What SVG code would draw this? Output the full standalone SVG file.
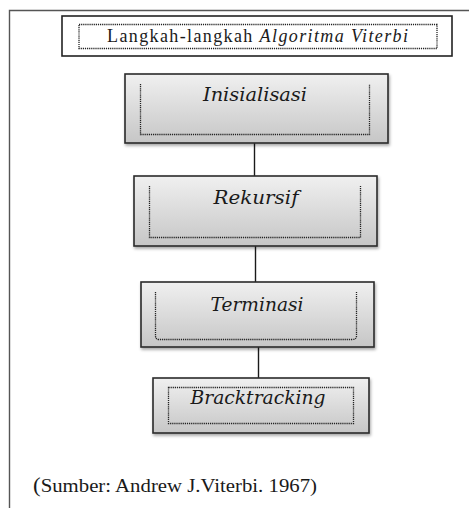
<svg xmlns="http://www.w3.org/2000/svg" width="469" height="508" viewBox="0 0 469 508">
<defs>
<linearGradient id="g" x1="0" y1="0" x2="0" y2="1">
<stop offset="0" stop-color="#f0f0f0"/>
<stop offset="1" stop-color="#c6c6c6"/>
</linearGradient>
<filter id="sh" x="-10%" y="-10%" width="130%" height="140%">
<feDropShadow dx="1" dy="2" stdDeviation="1.5" flood-color="#000" flood-opacity="0.35"/>
</filter>
</defs>
<style>
.box{fill:url(#g);stroke:#2a2a2a;stroke-width:1.6;filter:url(#sh)}
.dot{fill:none;stroke:#222;stroke-width:1.3;stroke-dasharray:1.2 0.9}
.serif{font-family:"Liberation Serif","Times New Roman",serif}
.lbl{font-family:"DejaVu Serif","Liberation Serif",serif;font-style:italic;font-size:18px;fill:#1a1a1a;text-anchor:middle}
.con{stroke:#1a1a1a;stroke-width:1.4;fill:none}
</style>
<rect width="469" height="508" fill="#fff"/>
<g id="frame">
<path d="M9.5 508 V10.5 H469" fill="none" stroke="#555" stroke-width="1.4"/>
</g>
<g id="title">
<rect x="62" y="16" width="390" height="40" fill="#fff" stroke="#222" stroke-width="1.6"/>
<rect x="79" y="24.5" width="358" height="24" class="dot"/>
<text x="107" y="42" class="serif" font-size="18" fill="#1a1a1a" textLength="301" lengthAdjust="spacing">Langkah-langkah <tspan font-style="italic">Algoritma Viterbi</tspan></text>
</g>
<g id="connectors">
<line x1="254.5" y1="143" x2="254.5" y2="176" class="con"/>
<line x1="255.5" y1="246" x2="255.5" y2="282" class="con"/>
<line x1="258.5" y1="347" x2="258.5" y2="378" class="con"/>
</g>
<g id="n1">
<rect x="125" y="74" width="263" height="69" class="box"/>
<path d="M140.5 84 V134.5 H369.5 V84" class="dot"/>
<text x="255" y="101" class="lbl" textLength="104" lengthAdjust="spacingAndGlyphs">Inisialisasi</text>
</g>
<g id="n2">
<rect x="134" y="176" width="243" height="70" class="box"/>
<path d="M149.5 186 V237.5 H360.5 V186" class="dot"/>
<text x="256" y="204" class="lbl" textLength="85" lengthAdjust="spacingAndGlyphs">Rekursif</text>
</g>
<g id="n3">
<rect x="141" y="282" width="233" height="65" class="box"/>
<path d="M155.5 292 V336 Q155.5 339.5 159 339.5 H352 Q356.5 339.5 356.5 336 V292" class="dot"/>
<text x="257" y="311" class="lbl" textLength="93" lengthAdjust="spacingAndGlyphs">Terminasi</text>
</g>
<g id="n4">
<rect x="153" y="378" width="216" height="55" class="box"/>
<rect x="168.5" y="387.5" width="185" height="36" class="dot"/>
<text x="258" y="404" class="lbl" textLength="135" lengthAdjust="spacingAndGlyphs">Bracktracking</text>
</g>
<g id="source">
<text x="33" y="492" class="serif" font-size="19" fill="#1a1a1a" textLength="284" lengthAdjust="spacingAndGlyphs"><tspan font-size="21">(</tspan>Sumber: Andrew J.Viterbi.  1967)</text>
</g>
</svg>
